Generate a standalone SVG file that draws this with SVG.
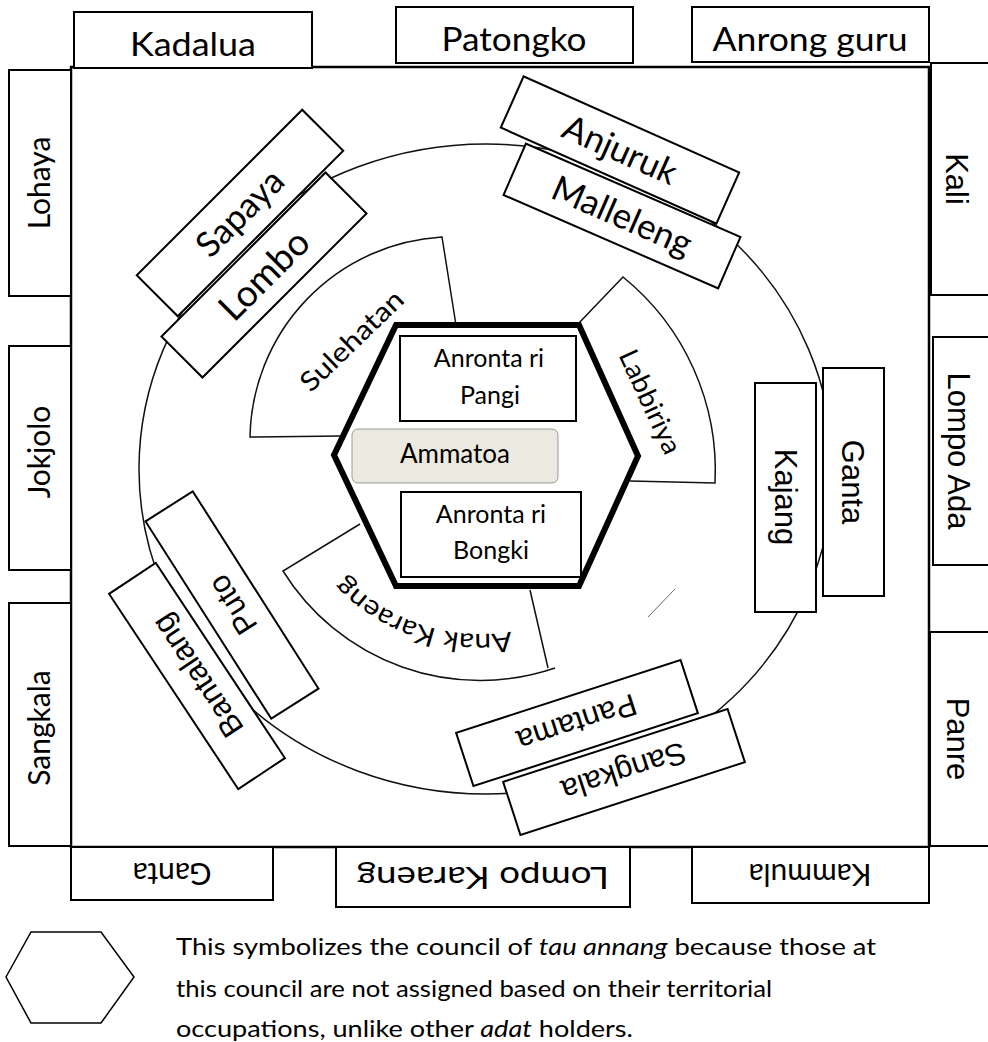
<svg xmlns="http://www.w3.org/2000/svg" width="988" height="1042" viewBox="0 0 988 1042">
<style>
.box{fill:#fff;stroke:#000;stroke-width:2}
.c{font-family:Lato,"Open Sans","Liberation Sans",sans-serif;fill:#000}
.a{font-family:"Liberation Sans",Arial,sans-serif;fill:#000}
.ln{fill:none;stroke:#111;stroke-width:1.5}
.hex{fill:none;stroke:#000;stroke-width:6;stroke-linejoin:miter}
</style>
<rect width="988" height="1042" fill="#fff"/>
<rect id="frame" x="71" y="67" width="858" height="780" fill="none" stroke="#000" stroke-width="2.5"/>

<g id="connectors">
  <ellipse cx="486" cy="469" rx="347" ry="325" class="ln"/>
  <path class="ln" d="M456 325 L442 237 A204 204 0 0 0 250 437 L342 436"/>
  <path class="ln" d="M578 324 L623 277 A249 249 0 0 1 715 483 L630 481"/>
  <path class="ln" d="M360 524 L283 571 A232 232 0 0 0 555 668"/>
  <path class="ln" d="M530 590 L548 668"/>
  <path fill="none" stroke="#666" stroke-width="1" d="M675 589 L648 617"/>
</g>

<g id="council">
  <polygon class="hex" points="396,325 579,325 638,456 579,586 396,586 334,455"/>
</g>
<g id="anronta-pangi">
  <rect class="box" x="400" y="336" width="176" height="85" stroke-width="1.5"/>
  <text class="c" x="489" y="367" font-size="25" text-anchor="middle">Anronta ri</text>
  <text class="c" x="490" y="404" font-size="25" text-anchor="middle">Pangi</text>
</g>
<g id="ammatoa">
  <rect x="352" y="429" width="206" height="54" rx="6" fill="#ECEAE0" stroke="#9a9a9a" stroke-width="1"/>
  <text class="c" x="455" y="463" font-size="26" text-anchor="middle" fill="#222">Ammatoa</text>
</g>
<g id="anronta-bongki">
  <rect class="box" x="401" y="492" width="180" height="85" stroke-width="1.5"/>
  <text class="c" x="491" y="523" font-size="25" text-anchor="middle">Anronta ri</text>
  <text class="c" x="491" y="559" font-size="25" text-anchor="middle">Bongki</text>
</g>

<g id="sulehatan"><text class="c" font-size="27" text-anchor="middle" transform="translate(352 341) rotate(-44)" y="9" textLength="132" lengthAdjust="spacingAndGlyphs">Sulehatan</text></g>
<g id="labbiriya"><text class="c" font-size="27" text-anchor="middle" transform="translate(650 402) rotate(65)" y="9" textLength="112" lengthAdjust="spacingAndGlyphs">Labbiriya</text></g>
<g id="anak-karaeng">
  <path id="akPath" d="M552.7 619.2 A186 186 0 0 1 318.9 541" fill="none"/>
  <text class="c" font-size="27"><textPath href="#akPath" startOffset="50%" text-anchor="middle" textLength="182" lengthAdjust="spacingAndGlyphs">Anak Karaeng</textPath></text>
</g>

<g id="kadalua"><rect class="box" x="74" y="12" width="238" height="56"/><text class="c" x="193" y="56" font-size="32" text-anchor="middle" textLength="126" lengthAdjust="spacingAndGlyphs">Kadalua</text></g>
<g id="patongko"><rect class="box" x="396" y="7" width="237" height="56"/><text class="c" x="514" y="51" font-size="32" text-anchor="middle" textLength="145" lengthAdjust="spacingAndGlyphs">Patongko</text></g>
<g id="anrong-guru"><rect class="box" x="692" y="7" width="237" height="55"/><text class="c" x="810" y="51" font-size="32" text-anchor="middle" textLength="195" lengthAdjust="spacingAndGlyphs">Anrong guru</text></g>

<g id="lohaya"><rect class="box" x="9" y="70" width="62" height="226"/><text class="c" font-size="30" text-anchor="middle" transform="translate(40 183) rotate(-90)" y="10">Lohaya</text></g>
<g id="jokjolo"><rect class="box" x="9" y="346" width="62" height="224"/><text class="c" font-size="30" text-anchor="middle" transform="translate(40 452) rotate(-90)" y="10">Jokjolo</text></g>
<g id="sangkala-left"><rect class="box" x="9" y="603" width="62" height="243"/><text class="c" font-size="30" text-anchor="middle" transform="translate(40 728) rotate(-90)" y="10">Sangkala</text></g>

<g id="kali"><rect class="box" x="931" y="63" width="62" height="232"/><text class="a" font-size="31" text-anchor="middle" transform="translate(957 179) rotate(90)" y="11">Kali</text></g>
<g id="lompo-ada"><rect class="box" x="933" y="337" width="62" height="228"/><text class="a" font-size="31" text-anchor="middle" transform="translate(959 451) rotate(90)" y="11">Lompo Ada</text></g>
<g id="panre"><rect class="box" x="930" y="632" width="62" height="214"/><text class="a" font-size="31" text-anchor="middle" transform="translate(958 739) rotate(90)" y="11">Panre</text></g>

<g id="ganta-bottom"><rect class="box" x="71" y="847" width="202" height="53"/><text class="c" font-size="30" text-anchor="middle" transform="translate(172 873) rotate(180)" y="10">Ganta</text></g>
<g id="lompo-karaeng"><rect class="box" x="336" y="847" width="294" height="60"/><text class="c" font-size="30" text-anchor="middle" transform="translate(483 877) rotate(180)" y="10" textLength="252" lengthAdjust="spacingAndGlyphs">Lompo Karaeng</text></g>
<g id="kammula"><rect class="box" x="692" y="847" width="237" height="56"/><text class="c" font-size="30" text-anchor="middle" transform="translate(810 874) rotate(180)" y="10">Kammula</text></g>

<g id="sapaya"><g transform="translate(240 213) rotate(-45)"><rect class="box" x="-117" y="-29" width="234" height="58"/><text class="c" font-size="35" text-anchor="middle" y="12">Sapaya</text></g></g>
<g id="lombo"><g transform="translate(264 275) rotate(-45)"><rect class="box" x="-116" y="-29" width="232" height="58"/><text class="c" font-size="37" text-anchor="middle" y="13">Lombo</text></g></g>

<g id="anjuruk"><g transform="translate(620 150) rotate(24)"><rect class="box" x="-118" y="-28" width="236" height="56"/><text class="c" font-size="35" text-anchor="middle" y="12">Anjuruk</text></g></g>
<g id="malleleng"><g transform="translate(622 216) rotate(23.5)"><rect class="box" x="-117" y="-28" width="234" height="56"/><text class="c" font-size="35" text-anchor="middle" y="12">Malleleng</text></g></g>

<g id="kajang"><rect class="box" x="755" y="383" width="61" height="229"/><text class="a" font-size="31" text-anchor="middle" transform="translate(786 497) rotate(90)" y="11">Kajang</text></g>
<g id="ganta-right"><rect class="box" x="823" y="368" width="61" height="228"/><text class="a" font-size="31" text-anchor="middle" transform="translate(853 482) rotate(90)" y="11">Ganta</text></g>

<g id="puto"><g transform="translate(232 605) rotate(57.5)"><rect class="box" x="-117" y="-28" width="234" height="56"/><text class="a" font-size="31" text-anchor="middle" transform="rotate(180)" y="11">Puto</text></g></g>
<g id="bantalang"><g transform="translate(197 676) rotate(56.5)"><rect class="box" x="-117" y="-28" width="234" height="56"/><text class="a" font-size="31" text-anchor="middle" transform="rotate(180)" y="11">Bantalang</text></g></g>

<g id="pantama"><g transform="translate(577 723) rotate(-18)"><rect class="box" x="-118" y="-28" width="236" height="56"/><text class="a" font-size="31" text-anchor="middle" transform="rotate(180)" y="11">Pantama</text></g></g>
<g id="sangkala-right"><g transform="translate(624 772) rotate(-18)"><rect class="box" x="-118" y="-28" width="236" height="56"/><text class="a" font-size="31" text-anchor="middle" transform="rotate(180)" y="11">Sangkala</text></g></g>

<g id="legend">
  <polygon points="6,977 31,932 101,932 134,977 101,1023 31,1023" fill="none" stroke="#000" stroke-width="1.5"/>
  <text class="c" font-size="23" x="176" y="955" textLength="700" lengthAdjust="spacingAndGlyphs">This symbolizes the council of <tspan font-style="italic">tau annang</tspan> because those at</text>
  <text class="c" font-size="23" x="176" y="997" textLength="596" lengthAdjust="spacingAndGlyphs">this council are not assigned based on their territorial</text>
  <text class="c" font-size="23" x="176" y="1037" textLength="457" lengthAdjust="spacingAndGlyphs">occupations, unlike other <tspan font-style="italic">adat</tspan> holders.</text>
</g>
</svg>
